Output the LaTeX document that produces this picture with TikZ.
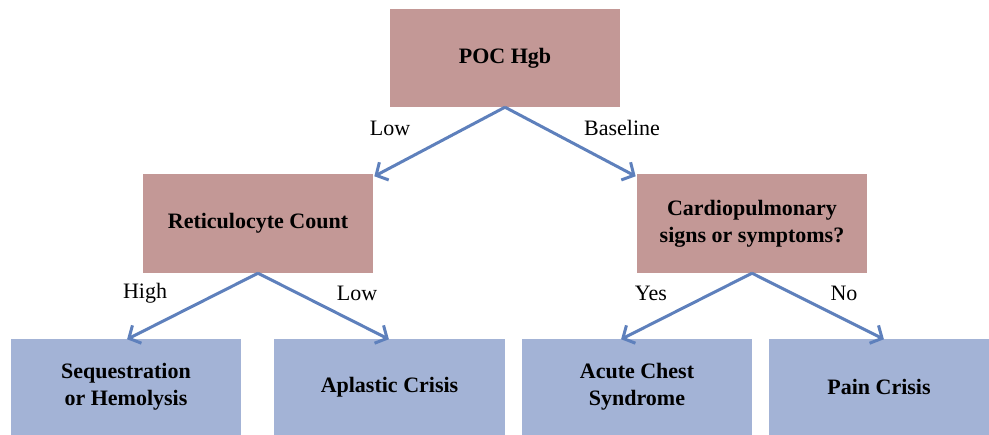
\documentclass[tikz,border=0pt]{standalone}
\usepackage{fontspec}
\setmainfont{Liberation Serif}
\usetikzlibrary{arrows.meta}
\definecolor{pinkbox}{RGB}{195,152,150}
\definecolor{bluebox}{RGB}{163,179,214}
\definecolor{arrowblue}{RGB}{94,128,188}
\tikzset{
  upper/.style={fill=pinkbox, draw=none, minimum width=230pt, minimum height=98pt,
    align=center, font=\fontsize{22}{27}\selectfont\bfseries, inner sep=0pt},
  lower/.style={fill=bluebox, draw=none, minimum height=96pt,
    align=center, font=\fontsize{22}{27}\selectfont\bfseries, inner sep=0pt},
  conn/.style={arrowblue, line width=3pt, -{Straight Barb[length=9pt,width=20pt,line width=3pt]}, shorten >=-1pt},
  lbl/.style={font=\fontsize{22}{26}\selectfont, inner sep=0pt}
}
\begin{document}
\begin{tikzpicture}[x=1pt,y=-1pt]
\useasboundingbox (0,0) rectangle (989,435);
\node[upper] (poc) at (505,58) {POC Hgb};
\node[upper, minimum height=99pt] (retic) at (258,223.5) {Reticulocyte Count};
\node[upper, minimum height=99pt] (cardio) at (752,223.5) {Cardiopulmonary\\signs or symptoms?};
\node[lower, minimum width=230pt] (seq) at (126,387) {Sequestration\\or Hemolysis};
\node[lower, minimum width=231pt] (apl) at (389.5,387) {Aplastic Crisis};
\node[lower, minimum width=230pt] (acs) at (637,387) {Acute Chest\\Syndrome};
\node[lower, minimum width=220pt] (pain) at (879,387) {Pain Crisis};

\draw[conn] (poc.south) -- ([xshift=2pt,yshift=-2pt]retic.north east);
\draw[conn] (poc.south) -- ([xshift=-2pt,yshift=-2pt]cardio.north west);
\draw[conn] (retic.south) -- ([xshift=2pt]seq.north);
\draw[conn] (retic.south) -- ([xshift=-1.5pt]apl.north);
\draw[conn] (cardio.south) -- ([xshift=-15pt]acs.north);
\draw[conn] (cardio.south) -- ([xshift=4pt]pain.north);

\node[lbl] (lowa) at (390,128) {Low};
\node[lbl] (base) at (622,128) {Baseline};
\node[lbl] (high) at (145,293) {High};
\node[lbl] (lowb) at (357,293) {Low};
\node[lbl] (yes) at (651,293) {Yes};
\node[lbl] (no) at (844,293) {No};
\end{tikzpicture}
\end{document}
